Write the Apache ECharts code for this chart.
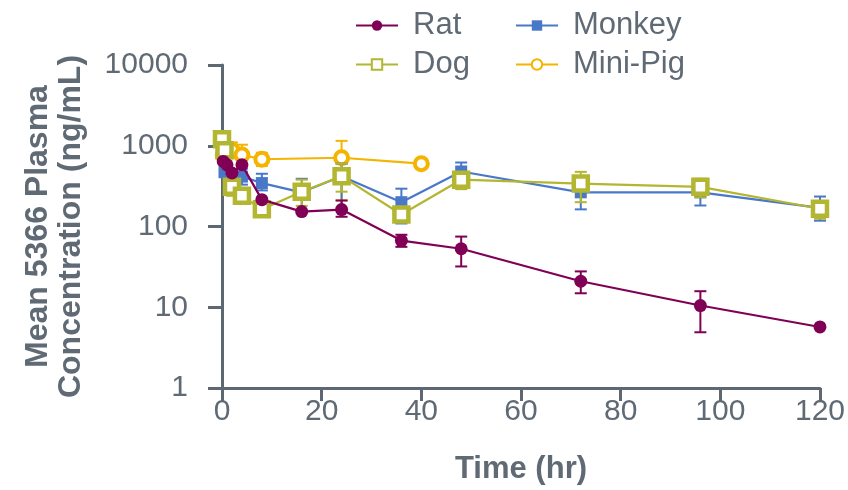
<!DOCTYPE html>
<html>
<head>
<meta charset="utf-8">
<script src="https://cdn.jsdelivr.net/npm/echarts@6/dist/echarts.min.js"></script>
<style>
  html, body { margin: 0; padding: 0; background: #fff; }
  #chart { width: 848px; height: 490px; }
</style>
</head>
<body>
<div id="chart"></div>
<script>
// values (time in hr, concentration in ng/mL)
const ratTime = [0.25, 1, 2, 4, 8, 16, 24, 36, 48, 72, 96, 120];
const ratMean = [640, 580, 460, 580, 215, 153, 162, 67, 53, 21, 10.5, 5.7];
const ratErr = [[24, 132, 210], [36, 56, 79], [48, 32, 75], [72, 14.9, 27.8], [96, 4.9, 15.8]];

const monkeyTime = [0.5, 2, 4, 8, 16, 24, 36, 48, 72, 96, 120];
const monkeyMean = [470, 440, 415, 345, 265, 420, 200, 480, 265, 265, 170];
const monkeyErr = [[4, 330, 520], [8, 280, 450], [16, 150, 390], [24, 160, 600], [36, 109, 294],
  [48, 380, 620], [72, 163, 400], [96, 182, 340], [120, 118, 235]];

const dogTime = [0, 0.5, 2, 4, 8, 16, 24, 36, 48, 72, 96, 120];
const dogMean = [1200, 880, 310, 240, 163, 270, 420, 141, 380, 340, 310, 166];
const dogErr = [[0.5, 700, 1100], [2, 240, 380], [16, 180, 380], [24, 270, 600], [36, 115, 175],
  [48, 290, 470], [72, 200, 475], [96, 230, 390], [120, 125, 200]];

const pigTime = [0.25, 2, 4, 8, 24, 40];
const pigMean = [770, 880, 770, 680, 710, 600];
const pigErr = [[2, 700, 1100], [4, 600, 1030], [8, 560, 820], [24, 210, 1150]];

const xTicks = [0, 20, 40, 60, 80, 100, 120];
const yTicks = [1, 10, 100, 1000, 10000];

const axisColor = '#5d6873';
const textColor = '#5f6a75';
const font = 'Liberation Sans, Arial, sans-serif';

function pairs(t, v) {
  return t.map((x, i) => [x, v[i]]);
}

function errBars(color) {
  return function (params, api) {
    const x = api.value(0);
    const lo = api.coord([x, api.value(1)]);
    const hi = api.coord([x, api.value(2)]);
    const w = 6;
    const st = {stroke: color, lineWidth: 2};
    return {
      type: 'group',
      children: [
        {type: 'line', shape: {x1: lo[0], y1: lo[1], x2: hi[0], y2: hi[1]}, style: st},
        {type: 'line', shape: {x1: lo[0] - w, y1: lo[1], x2: lo[0] + w, y2: lo[1]}, style: st},
        {type: 'line', shape: {x1: hi[0] - w, y1: hi[1], x2: hi[0] + w, y2: hi[1]}, style: st}
      ]
    };
  };
}

const colors = {
  Rat: '#7f0055',
  Monkey: '#4a78c9',
  Dog: '#b2b630',
  'Mini-Pig': '#f4b400'
};

function legendAt(name, left, top) {
  return {
    data: [name],
    left: left,
    top: top,
    itemWidth: 42,
    itemHeight: 13,
    textStyle: {fontSize: 31, color: textColor, fontFamily: font, padding: [0, 0, 0, 10]},
    selectedMode: false
  };
}

const ec = echarts.init(document.getElementById('chart'));
ec.setOption({
  backgroundColor: '#fff',
  animation: false,
  legend: [
    legendAt('Rat', 350, 5),
    legendAt('Monkey', 510, 5),
    legendAt('Dog', 350, 44),
    legendAt('Mini-Pig', 510, 44)
  ],
  grid: {left: 222, right: 28, top: 65, bottom: 101},
  xAxis: {
    type: 'value',
    min: 0,
    max: 120,
    interval: 20,
    name: 'Time (hr)',
    nameLocation: 'middle',
    nameGap: 66,
    nameTextStyle: {fontSize: 31, fontWeight: 'bold', color: textColor, fontFamily: font},
    axisLine: {lineStyle: {color: axisColor, width: 3}},
    axisTick: {length: 13, lineStyle: {color: axisColor, width: 3}},
    axisLabel: {fontSize: 30, color: textColor, fontFamily: font, margin: 9,
      formatter: v => xTicks.includes(v) ? String(v) : ''},
    splitLine: {show: false}
  },
  yAxis: {
    type: 'log',
    logBase: 10,
    min: 1,
    max: 10000,
    name: 'Mean 5366 Plasma\nConcentration (ng/mL)',
    nameLocation: 'middle',
    nameRotate: 90,
    nameGap: 134,
    nameTextStyle: {fontSize: 32, fontWeight: 'bold', color: textColor, fontFamily: font, lineHeight: 33},
    axisLine: {show: true, lineStyle: {color: axisColor, width: 3}},
    axisTick: {show: true, length: 14, lineStyle: {color: axisColor, width: 3}},
    axisLabel: {fontSize: 30, color: textColor, fontFamily: font, margin: 34,
      formatter: v => yTicks.includes(Math.round(v)) ? String(Math.round(v)) : ''},
    splitLine: {show: false}
  },
  series: [
    {
      name: 'Mini-Pig', type: 'line', z: 2, data: pairs(pigTime, pigMean),
      symbol: 'circle', symbolSize: 13,
      lineStyle: {color: colors['Mini-Pig'], width: 2.2},
      itemStyle: {color: '#fff', borderColor: colors['Mini-Pig'], borderWidth: 4}
    },
    {
      type: 'custom', z: 2, renderItem: errBars(colors['Mini-Pig']), data: pigErr,
      encode: {x: 0, y: [1, 2]}, silent: true
    },
    {
      name: 'Monkey', type: 'line', z: 3, data: pairs(monkeyTime, monkeyMean),
      symbol: 'rect', symbolSize: 12,
      lineStyle: {color: colors.Monkey, width: 2.2},
      itemStyle: {color: colors.Monkey}
    },
    {
      type: 'custom', z: 3, renderItem: errBars(colors.Monkey), data: monkeyErr,
      encode: {x: 0, y: [1, 2]}, silent: true
    },
    {
      name: 'Dog', type: 'line', z: 4, data: pairs(dogTime, dogMean),
      symbol: 'rect', symbolSize: 14,
      lineStyle: {color: colors.Dog, width: 2.2},
      itemStyle: {color: '#fff', borderColor: colors.Dog, borderWidth: 4.5}
    },
    {
      type: 'custom', z: 4, renderItem: errBars(colors.Dog), data: dogErr,
      encode: {x: 0, y: [1, 2]}, silent: true
    },
    {
      name: 'Rat', type: 'line', z: 5, data: pairs(ratTime, ratMean),
      symbol: 'circle', symbolSize: 13,
      lineStyle: {color: colors.Rat, width: 2.2},
      itemStyle: {color: colors.Rat}
    },
    {
      type: 'custom', z: 5, renderItem: errBars(colors.Rat), data: ratErr,
      encode: {x: 0, y: [1, 2]}, silent: true
    }
  ]
});
</script>
</body>
</html>
